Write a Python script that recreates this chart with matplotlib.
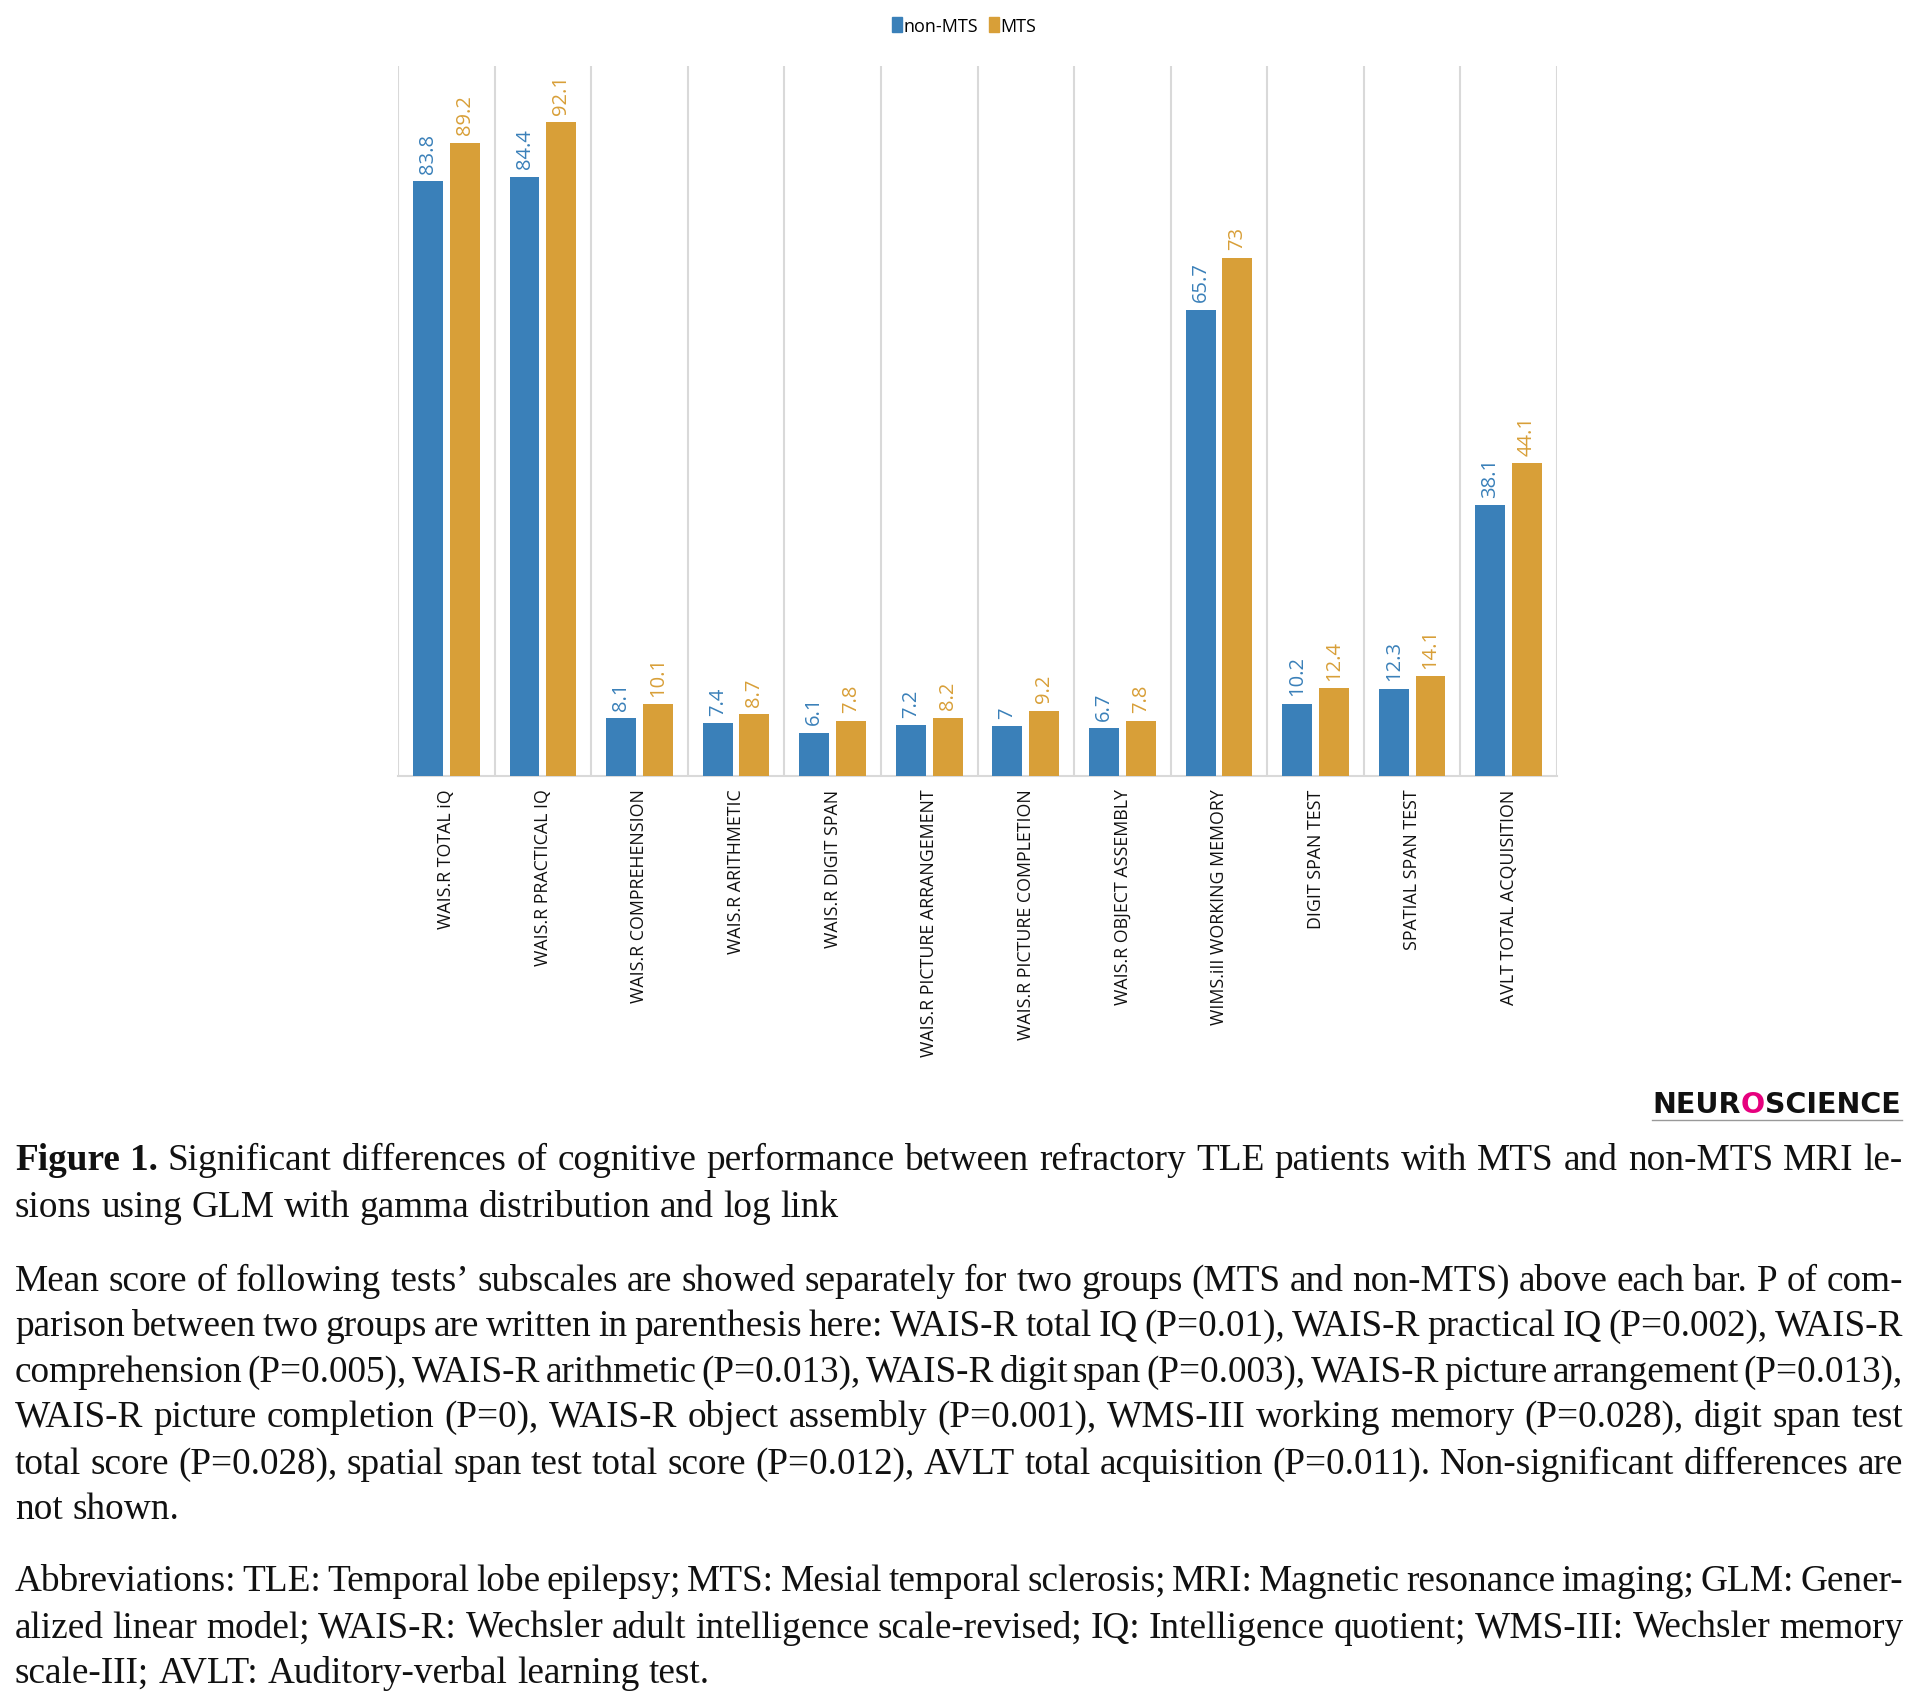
import matplotlib
matplotlib.use("Agg")
import matplotlib.pyplot as plt
import numpy as np
from matplotlib.patches import Patch
from matplotlib.lines import Line2D

# ---------------- data ----------------
categories = ["WAIS.R TOTAL iQ", "WAIS.R PRACTICAL IQ", "WAIS.R COMPREHENSION",
              "WAIS.R ARITHMETIC", "WAIS.R DIGIT SPAN", "WAIS.R PICTURE ARRANGEMENT",
              "WAIS.R PICTURE COMPLETION", "WAIS.R OBJECT ASSEMBLY",
              "WIMS.iII WORKING MEMORY", "DIGIT SPAN TEST", "SPATIAL SPAN TEST",
              "AVLT TOTAL ACQUISITION"]
non_mts = [83.8, 84.4, 8.1, 7.4, 6.1, 7.2, 7, 6.7, 65.7, 10.2, 12.3, 38.1]
mts = [89.2, 92.1, 10.1, 8.7, 7.8, 8.2, 9.2, 7.8, 73, 12.4, 14.1, 44.1]
series_names = ["non-MTS", "MTS"]

caption_p1 = [
    "Figure 1. Significant differences of cognitive performance between refractory TLE patients with MTS and non-MTS MRI le-",
    "sions using GLM with gamma distribution and log link",
]
caption_p2 = [
    "Mean score of following tests\u2019 subscales are showed separately for two groups (MTS and non-MTS) above each bar. P of com-",
    "parison between two groups are written in parenthesis here: WAIS-R total IQ (P=0.01), WAIS-R practical IQ (P=0.002), WAIS-R",
    "comprehension (P=0.005), WAIS-R arithmetic (P=0.013), WAIS-R digit span (P=0.003), WAIS-R picture arrangement (P=0.013),",
    "WAIS-R picture completion (P=0), WAIS-R object assembly (P=0.001), WMS-III working memory (P=0.028), digit span test",
    "total score (P=0.028), spatial span test total score (P=0.012), AVLT total acquisition (P=0.011). Non-significant differences are",
    "not shown.",
]
caption_p3 = [
    "Abbreviations: TLE: Temporal lobe epilepsy; MTS: Mesial temporal sclerosis; MRI: Magnetic resonance imaging; GLM: Gener-",
    "alized linear model; WAIS-R: Wechsler adult intelligence scale-revised; IQ: Intelligence quotient; WMS-III: Wechsler memory",
    "scale-III; AVLT: Auditory-verbal learning test.",
]
logo_parts = ["NEUR", "O", "SCIENCE"]

# ---------------- style ----------------
W, H = 1923, 1708
DPI = 100
BLUE = "#3a80b9"
ORANGE = "#d89f38"
GRID = "#d9d9d9"
PINK = "#e6007e"
SANS = ["Open Sans", "DejaVu Sans"]
SERIF = ["Liberation Serif", "DejaVu Serif"]

fig = plt.figure(figsize=(W / DPI, H / DPI), dpi=DPI)
fig.patch.set_facecolor("white")
renderer = fig.canvas.get_renderer()

def fx(px):
    return px / W

def fy(py):
    return 1 - py / H

ax_left, ax_right, ax_top, ax_bottom = 398, 1557, 67, 777
ax = fig.add_axes([fx(ax_left), fy(ax_bottom), fx(ax_right - ax_left), (ax_bottom - ax_top) / H])

n = len(categories)
x = np.arange(n)
bw = 0.31
off = 0.19
b1 = ax.bar(x - off, non_mts, bw, color=BLUE, label=series_names[0], zorder=3)
b2 = ax.bar(x + off, mts, bw, color=ORANGE, label=series_names[1], zorder=3)

ax.bar_label(b1, labels=[f"{v:g}" for v in non_mts], rotation=90, padding=6,
             color=BLUE, fontsize=14.5, family=SANS)
ax.bar_label(b2, labels=[f"{v:g}" for v in mts], rotation=90, padding=6,
             color=ORANGE, fontsize=14.5, family=SANS)

ax.set_xlim(-0.5, n - 0.5)
ax.set_ylim(0, 100)
ax.set_yticks([])
ax.set_xticks(x)
ax.set_xticklabels(categories, rotation=90, va="top", ha="center",
                   fontsize=12.8, family=SANS, color="#111111")
ax.tick_params(axis="x", length=0, pad=9)
ax.set_xticks(np.arange(-0.5, n, 1.0), minor=True)
ax.tick_params(axis="x", which="minor", length=0)
ax.grid(which="minor", axis="x", color=GRID, linewidth=1.5, zorder=0)
for s in ["top", "left", "right"]:
    ax.spines[s].set_visible(False)
ax.spines["bottom"].set_color(GRID)
ax.spines["bottom"].set_linewidth(1.5)

# legend
fig.legend(handles=[Patch(color=BLUE), Patch(color=ORANGE)], labels=series_names,
           loc="center", bbox_to_anchor=(fx(964), fy(27)), ncol=2, frameon=False,
           handlelength=0.55, handleheight=0.9, handletextpad=0.1, columnspacing=0.6,
           prop={"family": SANS, "size": 13})

# logo (placed sequentially)
LOGO_SIZE = 20.5
LOGO_FONT = ["DejaVu Sans"]
lx = 1652
for part, col in zip(logo_parts, ["#111111", PINK, "#111111"]):
    t = fig.text(fx(lx), fy(1113), part, fontsize=LOGO_SIZE, fontweight="bold",
                 family=LOGO_FONT, color=col, ha="left", va="baseline")
    lx += t.get_window_extent(renderer).width
fig.add_artist(Line2D([fx(1652), fx(1902)], [fy(1121), fy(1121)], color="#999999",
                      linewidth=1, transform=fig.transFigure))

# caption (justified)
CAP_SIZE = 26.8
LEFT, RIGHT = 15, 1903

def measure(s, weight="normal"):
    t = fig.text(0, 0, s, fontsize=CAP_SIZE, family=SERIF, fontweight=weight)
    w = t.get_window_extent(renderer).width
    t.remove()
    return w

space_w = measure("x x") - measure("xx")

def draw_line(line, y, justify, bold_words=0):
    words = line.split(" ")
    weights = ["bold" if i < bold_words else "normal" for i in range(len(words))]
    widths = [measure(w, wt) for w, wt in zip(words, weights)]
    if justify and len(words) > 1:
        gap = (RIGHT - LEFT - sum(widths)) / (len(words) - 1)
    else:
        gap = space_w
    xpos = LEFT
    for w, wt, wd in zip(words, weights, widths):
        fig.text(fx(xpos), fy(y), w, fontsize=CAP_SIZE, family=SERIF,
                 fontweight=wt, color="#111111", ha="left", va="baseline")
        xpos += wd + gap

def draw_par(lines, ys, bold_first=0):
    for i, (ln, yy) in enumerate(zip(lines, ys)):
        draw_line(ln, yy, justify=(i < len(lines) - 1),
                  bold_words=bold_first if i == 0 else 0)

draw_par(caption_p1, [1170, 1217], bold_first=2)
draw_par(caption_p2, [1291, 1336, 1382, 1427, 1474, 1519])
draw_par(caption_p3, [1591, 1638, 1683])

fig.savefig("out.png", dpi=DPI, facecolor="white")
